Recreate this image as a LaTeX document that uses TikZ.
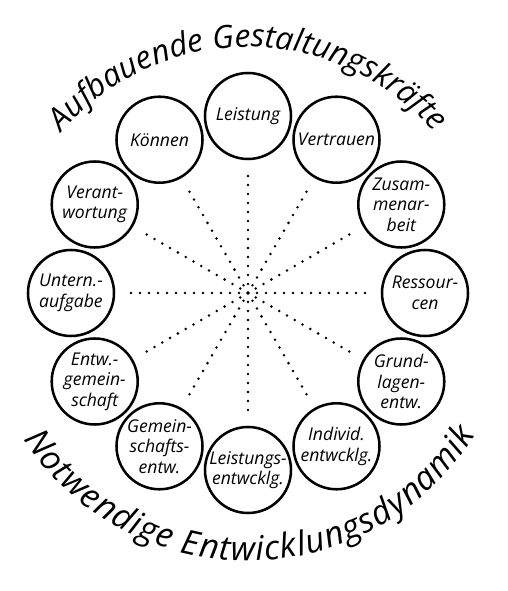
\documentclass[tikz,border=0pt]{standalone}
\usepackage{fontspec}
\setmainfont{Open Sans}
\usepackage{tikz}
\usetikzlibrary{calc, decorations.text}

\begin{document}
\begin{tikzpicture}[
    topic/.style={circle, draw, line width=1.8pt, minimum size=2.15cm,
      inner sep=0pt, align=center,
      font=\fontsize{12.5}{14.5}\selectfont\itshape},
    spoke/.style={line width=2pt, line cap=round,
      dash pattern=on 0pt off 6.4pt, shorten >=0.22cm}
  ]
    \useasboundingbox (0,0) rectangle (12.7,14.775);
    \coordinate (hub) at (6.2,7.45);
    % ---- ring of topics ----
    \foreach \a/\n/\lab in {90/lei/Leistung, 60/ver/Vertrauen,
        30/zus/Zusam-\\menar-\\beit, 0/res/Ressour-\\cen,
        -30/gru/Grund-\\lagen-\\entw., -60/ind/Individ.\\entwcklg.,
        -90/lent/Leistungs-\\entwcklg., -120/gem/Gemein-\\schafts-\\entw.,
        -150/eng/Entw.-\\gemein-\\schaft, 180/unt/Untern.-\\aufgabe,
        150/vant/Verant-\\wortung, 120/koe/Können}
    {
      \node[topic] (\n) at ([shift={(\a:4.425)}]hub) {\lab};
      \draw[spoke] (hub) -- (\n);
    }
    % ---- arc captions ----
    \path[decorate, decoration={text along path, text align=center,
        text={|\fontsize{22.5}{22}\selectfont\itshape|Aufbauende Gestaltungskräfte}}]
      ([shift={(140:6.15)}]hub) arc[start angle=140, end angle=40, radius=6.15cm];
    \path[decorate, decoration={text along path, text align=fit to path,
        text={|\fontsize{24}{24}\selectfont\itshape|Notwendige Entwicklungsdynamik}}]
      ([shift={(213:6.7)}]hub) arc[start angle=213, end angle=328, radius=6.7cm];
\end{tikzpicture}
\end{document}
